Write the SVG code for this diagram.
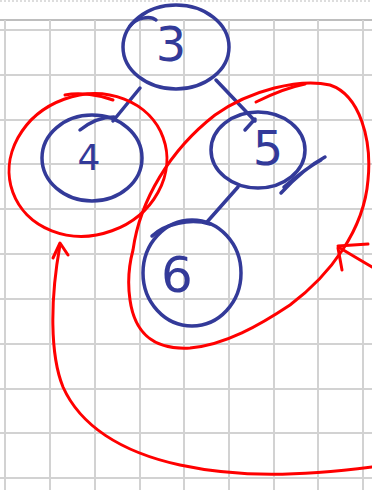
<svg xmlns="http://www.w3.org/2000/svg" width="372" height="490" viewBox="0 0 372 490">
<style>
.grid{stroke:#d2d2d2;stroke-width:2;fill:none}
.blue{stroke:#333a99;stroke-width:3.5;fill:none;stroke-linecap:round;stroke-linejoin:round}
.red{stroke:#ff0000;stroke-width:3;fill:none;stroke-linecap:round;stroke-linejoin:round}
.lbl{font-family:"DejaVu Sans",sans-serif;fill:#333a99;text-anchor:middle}
</style>
<rect width="372" height="490" fill="#ffffff"/>
<g id="paper">
<line x1="0" y1="1" x2="372" y2="1" stroke="#bbbbbb" stroke-width="1" stroke-dasharray="2,2"/>
<line x1="0" y1="20" x2="372" y2="20" stroke="#a8a8a8" stroke-width="1.5"/>
<path class="grid" d="M0,30H372M0,75H372M0,120H372M0,164H372M0,209H372M0,254H372M0,299H372M0,344H372M0,389H372M0,433H372M0,478H372M5,20V490M50,20V490M95,20V490M140,20V490M184,20V490M229,20V490M274,20V490M318,20V490M363,20V490"/>
</g>
<g id="connectors">
<path class="blue" d="M140,88 L113,121"/>
<path class="blue" d="M216,80 L255,121"/>
<path class="blue" d="M238,187 L207,222"/>
<path class="blue" d="M281,193 C295,178 310,165 325,157 M284,187 C298,175 310,166 321,160"/>
</g>
<g id="node3">
<ellipse class="blue" cx="176" cy="47" rx="53" ry="42"/>
<path class="blue" d="M130,26 C136,18 150,15 156,20"/>
<text class="lbl" x="171" y="61" font-size="48">3</text>
</g>
<g id="node4">
<ellipse class="blue" cx="92" cy="158" rx="50" ry="43"/>
<path class="blue" d="M80,130 C90,122 102,117 114,117"/>
<text class="lbl" x="89" y="170" font-size="36">4</text>
</g>
<g id="node5">
<ellipse class="blue" cx="258" cy="150" rx="47" ry="38"/>
<path class="blue" d="M245,130 L255,119"/>
<text class="lbl" x="268" y="165" font-size="48">5</text>
</g>
<g id="node6">
<ellipse class="blue" cx="192" cy="273" rx="49" ry="53"/>
<path class="blue" d="M152,236 C165,224 190,218 210,224"/>
<text class="lbl" x="177" y="292" font-size="50">6</text>
</g>
<g id="group4">
<ellipse class="red" cx="88" cy="165" rx="80" ry="70" transform="rotate(-20 88 165)"/>
<path class="red" d="M65,95 C80,92 100,95 113,100"/>
</g>
<g id="group56">
<path class="red" d="M133,250 C140,200 170,150 215,115 C250,90 300,78 330,85 C360,95 372,140 368,180 C364,230 330,275 290,305 C260,325 225,345 190,348 C155,350 135,335 130,300 C127,280 129,265 133,250 Z"/>
<path class="red" d="M256,102 C272,94 290,87 305,84"/>
</g>
<g id="arrows">
<path class="red" d="M372,467 C300,476 240,478 180,465 C120,452 80,425 63,387 C50,355 50,300 60,245"/>
<path class="red" d="M53,258 L60,243 L68,255"/>
<path class="red" d="M372,267 C360,260 350,254 340,248"/>
<path class="red" d="M338,246 L368,244 M338,248 L342,270"/>
</g>
</svg>
